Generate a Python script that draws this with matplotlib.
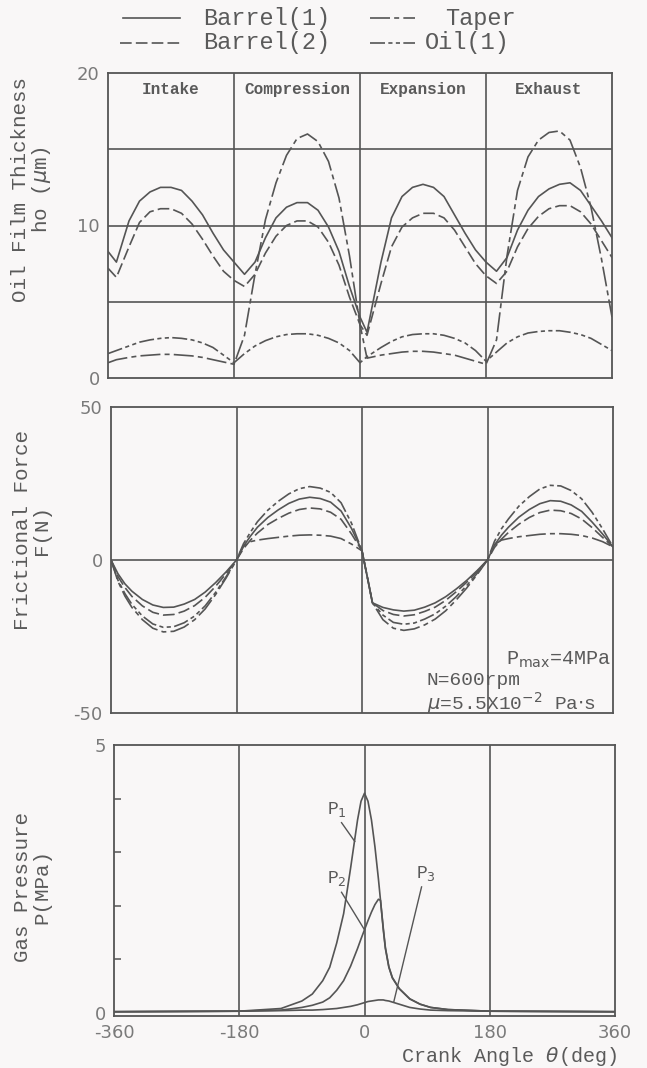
import matplotlib
matplotlib.use("Agg")
import matplotlib.pyplot as plt
from matplotlib.lines import Line2D

plt.rcParams["axes.unicode_minus"] = False

# crank angle grids (deg)
ang_h = [-360, -348, -330, -315, -300, -285, -270, -255, -240, -225, -210, -195, -180,
         -165, -150, -135, -120, -105, -90, -75, -60, -45, -30, -15, 0,
         10, 30, 45, 60, 75, 90, 105, 120, 135, 150, 165, 180,
         195, 210, 225, 240, 255, 270, 285, 300, 315, 330, 345, 360]

# oil film thickness ho (um)
h_barrel1 = [8.3, 7.6, 10.3, 11.6, 12.2, 12.5, 12.5, 12.3, 11.6, 10.7, 9.5, 8.4, 7.6,
             6.8, 7.6, 9.2, 10.5, 11.2, 11.5, 11.5, 11.0, 9.9, 8.3, 6.0, 4.0,
             3.0, 7.6, 10.5, 11.9, 12.5, 12.7, 12.5, 11.9, 10.7, 9.5, 8.4, 7.6,
             7.0, 7.9, 9.7, 11.0, 11.9, 12.4, 12.7, 12.8, 12.3, 11.3, 10.3, 9.2]
h_barrel2 = [7.2, 6.6, 8.6, 10.2, 10.9, 11.1, 11.1, 10.8, 10.1, 9.1, 8.0, 7.0, 6.4,
             6.0, 6.8, 8.2, 9.3, 10.0, 10.3, 10.3, 9.9, 8.9, 7.4, 5.3, 3.5,
             2.8, 6.2, 8.6, 9.9, 10.5, 10.8, 10.8, 10.5, 9.7, 8.6, 7.5, 6.7,
             6.2, 7.0, 8.6, 9.8, 10.6, 11.1, 11.3, 11.3, 10.9, 10.1, 9.0, 7.9]
h_taper = [1.0, 1.2, 1.35, 1.45, 1.5, 1.55, 1.55, 1.5, 1.45, 1.35, 1.2, 1.05, 0.9,
           2.8, 6.8, 10.4, 12.8, 14.6, 15.7, 16.0, 15.5, 14.2, 11.8, 8.0, 3.5,
           1.3, 1.5, 1.6, 1.7, 1.75, 1.75, 1.7, 1.6, 1.5, 1.3, 1.1, 0.9,
           2.5, 8.0, 12.3, 14.5, 15.6, 16.1, 16.2, 15.6, 13.8, 11.2, 7.8, 4.0]
h_oil1 = [1.6, 1.8, 2.1, 2.35, 2.5, 2.6, 2.65, 2.6, 2.5, 2.3, 2.0, 1.5, 1.0,
          1.6, 2.1, 2.45, 2.7, 2.85, 2.9, 2.9, 2.8, 2.6, 2.3, 1.8, 1.0,
          1.4, 2.0, 2.4, 2.7, 2.85, 2.9, 2.9, 2.8, 2.6, 2.3, 1.8, 1.1,
          1.7, 2.3, 2.7, 2.95, 3.05, 3.1, 3.1, 3.0, 2.85, 2.6, 2.2, 1.8]

ang_f = [-360, -350, -340, -330, -315, -300, -285, -270, -255, -240, -225, -210, -195, -180,
         -170, -160, -150, -135, -120, -105, -90, -75, -60, -45, -30, -15, 0,
         8, 15, 30, 45, 60, 75, 90, 105, 120, 135, 150, 165, 180,
         190, 200, 210, 225, 240, 255, 270, 285, 300, 315, 330, 345, 360]

# frictional force F (N)
f_barrel1 = [0, -4.5, -7.8, -10.2, -12.9, -14.7, -15.5, -15.4, -14.4, -12.9, -10.5, -7.4, -3.9, 0,
             4.5, 7.8, 10.7, 13.9, 16.4, 18.5, 19.9, 20.5, 20.1, 18.9, 16.0, 10.3, 3.0,
             -6.0, -14.0, -15.5, -16.3, -16.7, -16.4, -15.4, -14.0, -12.0, -9.5, -6.7, -3.5, 0,
             4.9, 8.1, 10.7, 14.0, 16.5, 18.4, 19.4, 19.2, 18.0, 15.9, 12.4, 8.5, 4.3]
f_barrel2 = [0, -5.4, -9.0, -11.9, -15.0, -17.1, -18.0, -17.8, -16.7, -14.9, -12.2, -8.6, -4.5, 0,
             3.7, 6.5, 8.8, 11.6, 13.6, 15.3, 16.5, 17.0, 16.7, 15.6, 13.3, 8.5, 3.0,
             -6.0, -14.0, -16.5, -17.8, -18.3, -17.9, -16.8, -15.4, -13.2, -10.4, -7.3, -3.8, 0,
             4.1, 6.8, 9.0, 11.7, 13.9, 15.5, 16.3, 16.1, 15.2, 13.4, 10.6, 7.4, 4.3]
f_taper = [0, -7.0, -11.8, -15.5, -19.5, -22.3, -23.5, -23.3, -21.9, -19.5, -16.0, -11.3, -5.9, 0,
           4.5, 6.0, 6.5, 7.0, 7.4, 7.8, 8.1, 8.2, 8.1, 7.8, 7.0, 5.2, 3.0,
           -6.0, -14.0, -19.5, -22.3, -23.0, -22.5, -21.2, -19.3, -16.6, -13.1, -9.2, -4.8, 0,
           5.0, 6.5, 7.0, 7.6, 8.0, 8.4, 8.6, 8.6, 8.4, 8.0, 7.2, 6.0, 4.3]
f_oil1 = [0, -6.6, -11.0, -14.5, -18.3, -20.9, -22.0, -21.8, -20.5, -18.3, -15.0, -10.6, -5.5, 0,
          5.3, 9.1, 12.5, 16.3, 19.2, 21.6, 23.3, 24.0, 23.5, 22.1, 18.7, 12.0, 3.0,
          -6.0, -14.0, -18.0, -20.4, -21.0, -20.6, -19.3, -17.6, -15.1, -12.0, -8.4, -4.4, 0,
          6.1, 10.2, 13.4, 17.6, 20.7, 23.2, 24.4, 24.2, 22.7, 20.0, 15.6, 10.2, 4.3]

ang_p = [-360, -180, -120, -90, -75, -60, -50, -40, -30, -20, -10, -5, 0, 5, 10, 15, 20,
         23, 27, 30, 35, 40, 50, 65, 80, 95, 120, 180, 360]

# gas pressure P (MPa)
p1 = [0.02, 0.03, 0.08, 0.22, 0.35, 0.6, 0.85, 1.3, 1.85, 2.7, 3.6, 3.95, 4.1, 3.95, 3.6, 3.1, 2.5,
      2.1, 1.55, 1.2, 0.85, 0.65, 0.45, 0.26, 0.16, 0.1, 0.06, 0.03, 0.02]
p2 = [0.02, 0.03, 0.05, 0.1, 0.14, 0.2, 0.28, 0.42, 0.6, 0.87, 1.2, 1.38, 1.55, 1.72, 1.88, 2.02, 2.12,
      2.1, 1.58, 1.22, 0.86, 0.66, 0.45, 0.26, 0.16, 0.1, 0.06, 0.03, 0.02]
p3 = [0.02, 0.03, 0.04, 0.05, 0.05, 0.06, 0.07, 0.08, 0.1, 0.12, 0.15, 0.17, 0.19, 0.21, 0.22, 0.23, 0.24,
      0.24, 0.24, 0.23, 0.22, 0.2, 0.16, 0.1, 0.07, 0.05, 0.04, 0.03, 0.02]

strokes = ["Intake", "Compression", "Expansion", "Exhaust"]
stroke_mid = [-270, -90, 90, 270]

W, H = 647, 1068
ink = "#555555"
txt = "#5a5a5a"
num = "#7a7a7a"
mono = ["Liberation Mono", "DejaVu Sans Mono"]
lw = 1.2
st = {
    "Barrel(1)": "-",
    "Barrel(2)": (0, (7, 2.5)),
    "Taper": (0, (12, 2.5, 3, 2.5)),
    "Oil(1)": (0, (9, 2, 2.5, 2, 2.5, 2)),
}

fig = plt.figure(figsize=(W / 100, H / 100), dpi=100)
fig.patch.set_facecolor("#f9f7f7")


def add_ax(x0, y0, x1, y1):
    a = fig.add_axes([x0 / W, 1 - y1 / H, (x1 - x0) / W, (y1 - y0) / H])
    a.set_facecolor("none")
    for s in a.spines.values():
        s.set_color(ink)
        s.set_linewidth(1.3)
    a.set_xlim(-360, 360)
    a.tick_params(length=0, labelsize=13, labelcolor=num, pad=6)
    for x in [-180, 0, 180]:
        a.axvline(x, color=ink, lw=1.2)
    return a


ax1 = add_ax(108, 73, 612, 378)
ax2 = add_ax(111, 407, 613, 713)
ax3 = add_ax(114, 745, 615, 1016)

# oil film thickness
ax1.set_ylim(0, 20)
ax1.set_yticks([0, 10, 20])
ax1.set_xticks([])
for y in [5, 10, 15]:
    ax1.axhline(y, color=ink, lw=1.2)
ax1.plot(ang_h, h_barrel1, color=ink, lw=lw, ls=st["Barrel(1)"])
ax1.plot(ang_h, h_barrel2, color=ink, lw=lw, ls=st["Barrel(2)"])
ax1.plot(ang_h, h_taper, color=ink, lw=lw, ls=st["Taper"])
ax1.plot(ang_h, h_oil1, color=ink, lw=lw, ls=st["Oil(1)"])
for name, xm in zip(strokes, stroke_mid):
    ax1.text(xm, 18.9, name, ha="center", va="center", fontsize=11.5,
             family=mono, color=txt, fontweight="bold")

# frictional force
ax2.set_ylim(-50, 50)
ax2.set_yticks([-50, 0, 50])
ax2.set_xticks([])
ax2.axhline(0, color=ink, lw=1.2)
ax2.plot(ang_f, f_barrel1, color=ink, lw=lw, ls=st["Barrel(1)"])
ax2.plot(ang_f, f_barrel2, color=ink, lw=lw, ls=st["Barrel(2)"])
ax2.plot(ang_f, f_taper, color=ink, lw=lw, ls=st["Taper"])
ax2.plot(ang_f, f_oil1, color=ink, lw=lw, ls=st["Oil(1)"])
ax2.text(357, -32.5, r"P$_{\rm max}$=4MPa", ha="right", va="center", fontsize=14.5,
         family=mono, color=txt)
ax2.text(93, -39.3, "N=600rpm", ha="left", va="center", fontsize=14, family=mono, color=txt)
ax2.text(93, -46.6, r"$\mu$=5.5X10$^{-2}$ Pa$\cdot$s", ha="left", va="center", fontsize=14,
         family=mono, color=txt)

# gas pressure
ax3.set_ylim(-0.06, 5)
ax3.set_yticks([0, 5])
ax3.set_xticks([-360, -180, 0, 180, 360])
ax3.set_yticks([1, 2, 3, 4], minor=True)
ax3.tick_params(axis="y", which="minor", direction="in", length=5, color=ink, width=1.1)
ax3.tick_params(axis="x", pad=6)
ax3.plot(ang_p, p1, color=ink, lw=lw)
ax3.plot(ang_p, p2, color=ink, lw=lw)
ax3.plot(ang_p, p3, color=ink, lw=lw)
ax3.text(-40, 3.8, r"P$_1$", ha="center", va="center", fontsize=13, family=mono, color=txt)
ax3.plot([-33, -14], [3.55, 3.2], color=ink, lw=1.0)
ax3.text(-40, 2.5, r"P$_2$", ha="center", va="center", fontsize=13, family=mono, color=txt)
ax3.plot([-33, 0], [2.25, 1.55], color=ink, lw=1.0)
ax3.text(88, 2.6, r"P$_3$", ha="center", va="center", fontsize=13, family=mono, color=txt)
ax3.plot([82, 42], [2.35, 0.2], color=ink, lw=1.0)
fig.text(617 / W, 1 - 1057 / H, r"Crank Angle $\theta$(deg)", ha="right", va="center",
         fontsize=14.5, family=mono, color=txt)

# y labels
for (cx, cy), s in [((32, 190), "Oil Film Thickness\nho ($\\mu$m)"),
                    ((32, 530), "Frictional Force\nF(N)"),
                    ((32, 887), "Gas Pressure\nP(MPa)")]:
    fig.text(cx / W, 1 - cy / H, s, rotation=90, ha="center", va="center",
             multialignment="center", linespacing=1.0, fontsize=15, family=mono, color=txt)

# legend
leg = [("Barrel(1)", 123, 180, 203, 18), ("Taper", 370, 415, 445, 18),
       ("Barrel(2)", 120, 180, 203, 43), ("Oil(1)", 370, 415, 425, 43)]
for name, l0, l1, tx, ty in leg:
    fig.add_artist(Line2D([l0 / W, l1 / W], [1 - ty / H, 1 - ty / H], color=ink, lw=lw,
                          ls=st[name], transform=fig.transFigure))
    fig.text(tx / W, 1 - ty / H, name, ha="left", va="center", fontsize=17,
             family=mono, color=txt)

fig.savefig("out.png", dpi=100, facecolor=fig.get_facecolor())
